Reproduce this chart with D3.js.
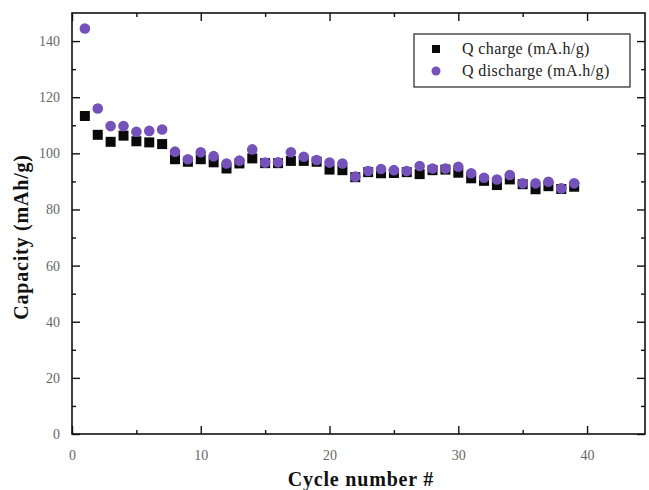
<!DOCTYPE html>
<html>
<head>
<meta charset="utf-8">
<script src="https://cdn.jsdelivr.net/npm/d3@7"></script>
<style>
  body { margin: 0; background: #fff; }
  svg { display: block; }
  text { font-family: "Liberation Serif", "DejaVu Serif", serif; }
</style>
</head>
<body>
<svg id="chart" width="649" height="490"></svg>
<script>
// ---- data ----
const cycles = [1,2,3,4,5,6,7,8,9,10,11,12,13,14,15,16,17,18,19,20,21,22,23,24,25,26,27,28,29,30,31,32,33,34,35,36,37,38,39];
const qCharge = [113.3,106.6,104.1,106.3,104.3,103.9,103.3,97.9,97.0,97.9,96.8,94.6,96.4,98.2,96.5,96.5,97.3,97.3,97.0,94.2,94.0,91.5,93.3,92.9,93.0,93.3,92.6,94.0,94.2,93.1,91.1,90.2,88.7,90.7,89.0,87.2,88.3,87.3,88.1];
const qDischarge = [144.5,116.0,109.7,109.7,107.7,108.0,108.5,100.6,97.9,100.4,99.0,96.4,97.4,101.4,96.7,96.8,100.4,98.8,97.6,96.7,96.4,91.7,93.7,94.4,94.0,93.7,95.5,94.6,94.6,95.2,92.9,91.3,90.7,92.3,89.3,89.3,89.9,87.5,89.3];
const xTicks = [0,10,20,30,40];
const yTicks = [0,20,40,60,80,100,120,140];
const seriesNames = ["Q charge (mA.h/g)", "Q discharge (mA.h/g)"];
const xTitle = "Cycle number #";
const yTitle = "Capacity (mAh/g)";

// ---- layout ----
const svg = d3.select("#chart");
const L = 72, R = 645, T = 13, B = 434;
const x = d3.scaleLinear().domain([0, 44.5]).range([L, R]);
const y = d3.scaleLinear().domain([0, 150]).range([B, T]);
const purple = "#7552b9";

// minor tick values
const xMinor = d3.range(5, 45, 10);
const yMinor = d3.range(10, 150, 20);

function styleAxis(g) {
  g.select(".domain").remove();
  g.selectAll(".tick line").attr("stroke", "#111").attr("stroke-width", 1.4);
  g.selectAll(".tick text").attr("fill", "#666").attr("font-size", 14);
}

// bottom axis (ticks inward)
svg.append("g").attr("transform", `translate(0,${B})`)
  .call(d3.axisBottom(x).tickValues(xTicks).tickSize(-8).tickPadding(16).tickFormat(d3.format("d")))
  .call(styleAxis);
svg.append("g").attr("transform", `translate(0,${B})`)
  .call(d3.axisBottom(x).tickValues(xMinor).tickSize(-4).tickFormat(""))
  .call(styleAxis);
// top axis
svg.append("g").attr("transform", `translate(0,${T})`)
  .call(d3.axisTop(x).tickValues(xTicks).tickSize(-8).tickFormat(""))
  .call(styleAxis);
svg.append("g").attr("transform", `translate(0,${T})`)
  .call(d3.axisTop(x).tickValues(xMinor).tickSize(-4).tickFormat(""))
  .call(styleAxis);
// left axis
svg.append("g").attr("transform", `translate(${L},0)`)
  .call(d3.axisLeft(y).tickValues(yTicks).tickSize(-8).tickPadding(12).tickFormat(d3.format("d")))
  .call(styleAxis);
svg.append("g").attr("transform", `translate(${L},0)`)
  .call(d3.axisLeft(y).tickValues(yMinor).tickSize(-4).tickFormat(""))
  .call(styleAxis);
// right axis
svg.append("g").attr("transform", `translate(${R},0)`)
  .call(d3.axisRight(y).tickValues(yTicks).tickSize(-8).tickFormat(""))
  .call(styleAxis);
svg.append("g").attr("transform", `translate(${R},0)`)
  .call(d3.axisRight(y).tickValues(yMinor).tickSize(-4).tickFormat(""))
  .call(styleAxis);

// frame
svg.append("rect").attr("x", L).attr("y", T).attr("width", R - L).attr("height", B - T)
  .attr("fill", "none").attr("stroke", "#111").attr("stroke-width", 1.6);

// data marks
const sq = 10;
svg.append("g").selectAll("rect").data(cycles.map((c, i) => [c, qCharge[i]])).join("rect")
  .attr("x", d => x(d[0]) - sq / 2).attr("y", d => y(d[1]) - sq / 2)
  .attr("width", sq).attr("height", sq).attr("fill", "#0a0a0a");
svg.append("g").selectAll("circle").data(cycles.map((c, i) => [c, qDischarge[i]])).join("circle")
  .attr("cx", d => x(d[0])).attr("cy", d => y(d[1])).attr("r", 5.3)
  .attr("fill", purple);

// axis titles
svg.append("text").attr("x", 361).attr("y", 486).attr("text-anchor", "middle")
  .attr("font-size", 20).attr("font-weight", "bold").attr("letter-spacing", 0.8)
  .attr("fill", "#111").text(xTitle);
svg.append("text").attr("transform", "translate(28,237) rotate(-90)").attr("text-anchor", "middle")
  .attr("font-size", 20).attr("font-weight", "bold").attr("letter-spacing", 0.8)
  .attr("fill", "#111").text(yTitle);

// legend
const lg = svg.append("g");
lg.append("rect").attr("x", 414).attr("y", 34).attr("width", 216).attr("height", 53)
  .attr("fill", "#fff").attr("stroke", "#222").attr("stroke-width", 1.2);
lg.append("rect").attr("x", 432).attr("y", 45).attr("width", 8).attr("height", 8).attr("fill", "#0a0a0a");
lg.append("circle").attr("cx", 436).attr("cy", 71).attr("r", 4.5).attr("fill", purple);
lg.append("text").attr("x", 462).attr("y", 54).attr("font-size", 16).attr("letter-spacing", 0.4)
  .attr("fill", "#222").text(seriesNames[0]);
lg.append("text").attr("x", 462).attr("y", 76).attr("font-size", 16).attr("letter-spacing", 0.4)
  .attr("fill", "#222").text(seriesNames[1]);
</script>
</body>
</html>
